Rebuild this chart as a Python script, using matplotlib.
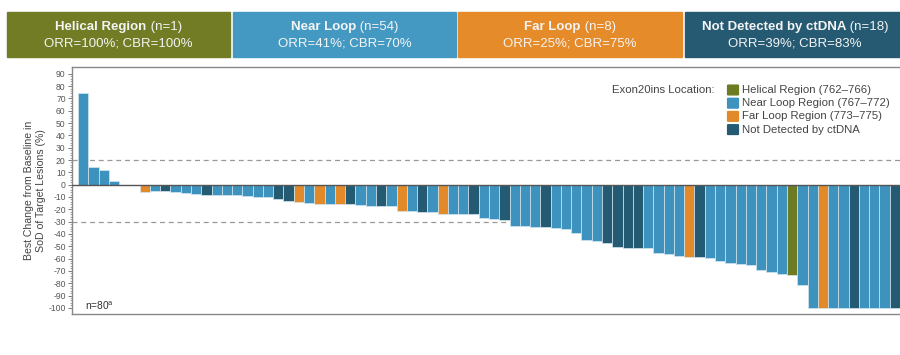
import matplotlib
matplotlib.use("Agg")
import matplotlib.pyplot as plt
from matplotlib.patches import Rectangle, FancyBboxPatch
import numpy as np

plt.rcParams['font.family'] = ['Liberation Sans', 'DejaVu Sans']

# ---------------- data ----------------
values = [74, 14, 12, 3, 0, 0, -6, -5.5, -5.5, -6, -6.5, -7.3, -8, -8, -8, -8.6, -9.2, -10, -10,
          -11.3, -13, -14, -15, -15.5, -16, -16, -16, -16.7, -17.3, -17.3, -17.5, -21, -21.6,
          -22.4, -22.5, -23.5, -24, -24, -24, -27, -27.5, -29, -33.7, -33.7, -34.2, -34.2, -35,
          -36, -39.6, -45, -45.8, -47.7, -51, -51.8, -51.8, -51.8, -55.8, -56.4, -57.7, -58.5,
          -58.5, -59.8, -61.7, -63.9, -64.7, -65.3, -69.3, -70.6, -72.5, -73.3, -81.5, -100,
          -100, -100, -100, -100, -100, -100, -100, -100]
groups = ['N', 'N', 'N', 'N', 'N', 'N', 'F', 'N', 'D', 'N', 'N', 'N', 'D', 'N', 'N', 'N', 'N', 'N', 'N',
          'D', 'D', 'F', 'N', 'F', 'N', 'F', 'D', 'N', 'N', 'D', 'N', 'F', 'N',
          'D', 'N', 'F', 'N', 'N', 'D', 'N', 'N', 'D', 'N', 'N', 'N', 'D', 'N',
          'N', 'N', 'N', 'N', 'D', 'D', 'D', 'D', 'N', 'N', 'N', 'N', 'F',
          'D', 'N', 'N', 'N', 'N', 'N', 'N', 'N', 'N', 'H', 'N', 'N',
          'F', 'N', 'N', 'D', 'N', 'N', 'N', 'D']

group_keys = ['H', 'N', 'F', 'D']
legend_labels = ['Helical Region (762\u2013766)', 'Near Loop Region (767\u2013772)',
                 'Far Loop Region (773\u2013775)', 'Not Detected by ctDNA']
header_bold = ['Helical Region', 'Near Loop', 'Far Loop', 'Not Detected by ctDNA']
header_n = [' (n=1)', ' (n=54)', ' (n=8)', ' (n=18)']
header_rates = ['ORR=100%; CBR=100%', 'ORR=41%; CBR=70%', 'ORR=25%; CBR=75%', 'ORR=39%; CBR=83%']
yticks = list(range(90, -101, -10))
ref_lines = [20, -30]

# ---------------- styles ----------------
bar_colors = {'H': '#6E7B22', 'N': '#3D93BE', 'F': '#E2892A', 'D': '#245A72'}
box_colors = ['#717C25', '#4499C3', '#E58B2A', '#255A72']

W, H = 900, 355
fig = plt.figure(figsize=(W / 100, H / 100), dpi=100)

def fx(px):
    return px / W

def fy(py):
    return 1 - py / H

# header boxes
box_x = [(7, 230), (233, 456), (458, 682), (685, 905)]
top, bot = 12, 57
fig.canvas.draw()
renderer = fig.canvas.get_renderer()
for (x0, x1), col, b, n, r in zip(box_x, box_colors, header_bold, header_n, header_rates):
    fig.patches.append(Rectangle((fx(x0), fy(bot)), fx(x1 - x0), (bot - top) / H,
                                 transform=fig.transFigure, color=col, zorder=0))
    cx = fx((x0 + x1) / 2)
    t1 = fig.text(0, fy(27), b, fontsize=9.5, fontweight='bold', color='#f4f4f4',
                  ha='left', va='center')
    t2 = fig.text(0, fy(27), n, fontsize=9.5, color='#f4f4f4', ha='left', va='center')
    w1 = t1.get_window_extent(renderer).width / W
    w2 = t2.get_window_extent(renderer).width / W
    start = cx - (w1 + w2) / 2
    t1.set_x(start)
    t2.set_x(start + w1)
    fig.text(cx, fy(44), r, fontsize=9.5, color='#f4f4f4', ha='center', va='center')

# axes
ax = fig.add_axes([fx(72), fy(314), 1 - fx(72), (314 - 67) / H])
x = np.arange(len(values))
cols = [bar_colors[g] for g in groups]
ax.bar(x, values, width=1.0, color=cols, edgecolor='#d4e6f0', linewidth=0.5, zorder=2)
ax.axhline(0, color='#555555', lw=1.0, zorder=3)
for v in ref_lines:
    ax.axhline(v, color='#999999', lw=0.9, ls=(0, (4, 3)), zorder=1)

ax.set_xlim(-1.08, 79.5)
ax.set_ylim(-105, 95.5)
ax.set_xticks([])
ax.set_yticks(yticks)
ax.set_yticklabels([str(t) for t in yticks], fontsize=6.2, color='#555555')
ax.set_yticks(np.arange(-100, 91, 2), minor=True)
ax.tick_params(axis='y', which='major', length=3, width=0.6, color='#666666', pad=1.5)
ax.tick_params(axis='y', which='minor', length=1.5, width=0.4, color='#666666')
for s in ['top', 'left', 'bottom']:
    ax.spines[s].set_color('#888888')
    ax.spines[s].set_linewidth(1.0)
ax.spines['right'].set_visible(False)
ax.set_ylabel('Best Change from Baseline in\nSoD of Target Lesions (%)', fontsize=7.6,
              color='#444444', labelpad=2, linespacing=1.15)

fig.text(fx(85), fy(306), 'n=80$^{\\mathrm{a}}$', fontsize=7.3, color='#333333', ha='left', va='center')

# legend
fig.text(fx(612), fy(90), 'Exon20ins Location:', fontsize=8.2, color='#444444', ha='left', va='center')
for i, (k, lab) in enumerate(zip(group_keys, legend_labels)):
    yc = 90 + i * 13.2
    fig.patches.append(FancyBboxPatch((fx(728.5), fy(yc + 4.5)), fx(9), 9 / H,
                                      boxstyle='round,pad=0.001', transform=fig.transFigure,
                                      color=bar_colors[k], zorder=5))
    fig.text(fx(742), fy(yc), lab, fontsize=8.2, color='#444444', ha='left', va='center')

fig.savefig('out.png', dpi=100)
